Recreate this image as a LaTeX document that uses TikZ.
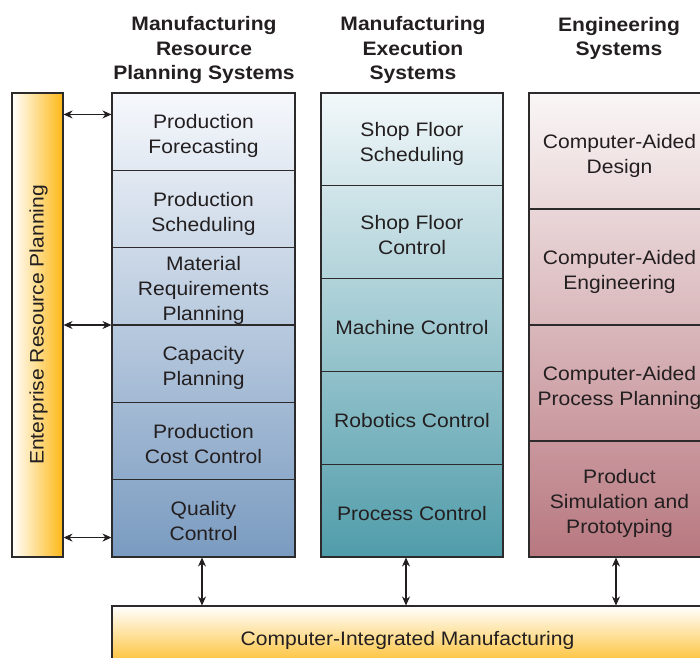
\documentclass[tikz,border=0pt]{standalone}
\usepackage{fontspec}
\setmainfont{Liberation Sans}[FakeStretch=1.08]
\usetikzlibrary{arrows.meta,calc}
\definecolor{txt}{RGB}{35,31,32}
\definecolor{lin}{RGB}{45,42,43}
\definecolor{orng}{RGB}{253,184,22}
\definecolor{ctop}{RGB}{246,248,252}
\definecolor{cbot}{RGB}{122,155,192}
\definecolor{mtop}{RGB}{242,248,250}
\definecolor{mbot}{RGB}{80,156,170}
\definecolor{etop}{RGB}{250,246,246}
\definecolor{ebot}{RGB}{184,120,128}
\newcommand\mytopstrut{\rule{0pt}{25.4pt}}
\newcommand\mybotstrut{\rule[-6pt]{0pt}{6pt}}
\newcommand\mysmtopstrut{\rule{0pt}{22pt}}
\newcommand\mysmbotstrut{\rule[-4.2pt]{0pt}{4.2pt}}
\tikzset{
  box/.style={draw=lin, line width=1.1pt, inner sep=0pt, align=center, text=txt,
    font=\fontsize{19.5}{25}\selectfont},
  hdr/.style={inner sep=0pt, align=center, text=txt,
    font=\fontsize{19.5}{24.5}\selectfont\bfseries},
  lbl/.style={inner sep=0pt, text=txt, font=\fontsize{19.5}{25}\selectfont},
  dbl/.style={draw=txt, line width=1.1pt, {Stealth[length=9pt,width=8pt]}-{Stealth[length=9pt,width=8pt]}}
}
\begin{document}
\begin{tikzpicture}[x=1pt,y=-1pt]
\useasboundingbox (0,0) rectangle (700,657);
\clip (0,0) rectangle (700,657);
% headers
\node[hdr] (h1) at (204,50.3) {Manufacturing\\Resource\\Planning Systems};
\node[hdr] (h2) at (413,50.3) {Manufacturing\\Execution\\Systems};
\node[hdr] (h3) at (619,38.4) {Engineering\\Systems};
% ERP bar
\shade[left color=white, right color=orng] (12,93) rectangle (63,557);
\node[box, minimum width=51, minimum height=464] (erp) at (37.5,325) {};
\node[lbl, rotate=90] (erpt) at (38.5,325) {Enterprise Resource Planning};
% column 1
\shade[top color=ctop, bottom color=cbot] (112,93) rectangle (295,557);
\tikzset{c1/.style={box, minimum width=183, minimum height=77.33}}
\node[c1] (pf) at (203.5,131.67) {\mytopstrut Production\\Forecasting\mybotstrut};
\node[c1] (ps) at (203.5,209) {\mytopstrut Production\\Scheduling\mybotstrut};
\node[c1] (mrp) at (203.5,286.33) {\mysmtopstrut Material\\Requirements\\Planning\mysmbotstrut};
\node[c1] (cp) at (203.5,363.67) {\mytopstrut Capacity\\Planning\mybotstrut};
\node[c1] (pcc) at (203.5,441) {\mytopstrut Production\\Cost Control\mybotstrut};
\node[c1] (qc) at (203.5,518.33) {\mytopstrut Quality\\Control\mybotstrut};
% column 2
\shade[top color=mtop, bottom color=mbot] (321,93) rectangle (503,557);
\tikzset{c2/.style={box, minimum width=182, minimum height=92.8}}
\node[c2] (sfs) at (412,139.4) {\mytopstrut Shop Floor\\Scheduling\mybotstrut};
\node[c2] (sfc) at (412,232.2) {\mytopstrut Shop Floor\\Control\mybotstrut};
\node[c2] (mc) at (412,325) {\mytopstrut Machine Control\mybotstrut};
\node[c2] (rc) at (412,417.8) {\mytopstrut Robotics Control\mybotstrut};
\node[c2] (pc) at (412,510.6) {\mytopstrut Process Control\mybotstrut};
% column 3
\shade[top color=etop, bottom color=ebot] (529,93) rectangle (710,557);
\tikzset{c3/.style={box, minimum width=181, minimum height=116}}
\node[c3] (cad) at (619.5,151) {\mytopstrut Computer-Aided\\Design\mybotstrut};
\node[c3] (cae) at (619.5,267) {\mytopstrut Computer-Aided\\Engineering\mybotstrut};
\node[c3] (capp) at (619.5,383) {\mytopstrut Computer-Aided\\Process Planning\mybotstrut};
\node[c3] (psp) at (619.5,499) {\mytopstrut Product\\Simulation and\\Prototyping\mybotstrut};
% bottom bar
\shade[top color=white, bottom color=orng] (112,606) rectangle (703,672);
\node[box, minimum width=591, minimum height=66] (cim) at (407.5,639) {};
\node[lbl] (cimt) at (407.5,640.5) {Computer-Integrated Manufacturing};
% horizontal arrows
\coordinate (e1) at ($(erp.north east)+(0,22)$);
\coordinate (e2) at (erp.east);
\coordinate (e3) at ($(erp.south east)+(0,-20)$);
\draw[dbl] (e1) -- (e1 -| pf.west);
\draw[dbl] (e2) -- (e2 -| cp.west);
\draw[dbl] (e3) -- (e3 -| qc.west);
% vertical arrows
\coordinate (v1) at ($(qc.south)+(-1.5,0)$);
\coordinate (v2) at ($(pc.south)+(-6,0)$);
\coordinate (v3) at ($(psp.south)+(-3.5,0)$);
\draw[dbl] (v1) -- (v1 |- cim.north);
\draw[dbl] (v2) -- (v2 |- cim.north);
\draw[dbl] (v3) -- (v3 |- cim.north);
\end{tikzpicture}
\end{document}
